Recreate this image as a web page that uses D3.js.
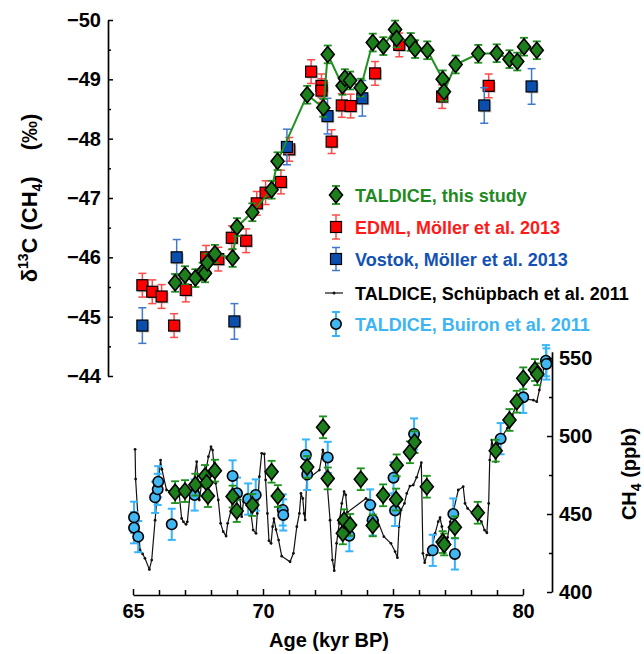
<!DOCTYPE html>
<html>
<head>
<meta charset="utf-8">
<script src="https://cdn.jsdelivr.net/npm/d3@7"></script>
<style>
html,body{margin:0;padding:0;background:#fff;}
svg{display:block;font-family:"Liberation Sans",Arial,sans-serif;font-weight:bold;}
</style>
</head>
<body>
<svg id="chart" width="644" height="654"></svg>
<script>
// ---------------- DATA ----------------
// Axis ticks
const ageTicks = [65, 70, 75, 80];
const ageMinorTicks = [66, 67, 68, 69, 71, 72, 73, 74, 76, 77, 78, 79];
const d13cTicks = [-50, -49, -48, -47, -46, -45, -44];
const d13cMinorTicks = [-49.5, -48.5, -47.5, -46.5, -45.5, -44.5];
const ch4Ticks = [400, 450, 500, 550];
const ch4MinorTicks = [425, 475, 525];

// TALDICE, this study: d13C (upper panel)
const taldAgeTop = [66.62, 67.0, 67.4, 67.68, 67.77, 67.86, 68.15, 68.83, 69.0, 69.59, 70.33, 70.56,
  71.70, 72.32, 72.49, 73.06, 73.15, 73.35, 73.76, 74.22, 74.63, 75.08, 75.14, 75.68, 75.85, 76.32,
  76.91, 76.96, 77.41, 78.28, 78.99, 79.48, 79.78, 80.04, 80.53];
const taldD13C = [-45.57, -45.70, -45.65, -45.76, -45.73, -45.91, -46.06, -45.99, -46.51, -46.76, -47.14, -47.62,
  -48.74, -48.52, -49.42, -48.89, -49.02, -48.98, -48.86, -49.62, -49.56, -49.84, -49.69, -49.63, -49.51, -49.49,
  -49.00, -48.79, -49.25, -49.43, -49.44, -49.34, -49.30, -49.55, -49.49];
const taldD13CErr = [0.15, 0.15, 0.15, 0.15, 0.15, 0.15, 0.15, 0.15, 0.15, 0.15, 0.15, 0.15,
  0.15, 0.15, 0.15, 0.15, 0.15, 0.15, 0.15, 0.15, 0.15, 0.15, 0.15, 0.15, 0.15, 0.15,
  0.15, 0.15, 0.15, 0.15, 0.15, 0.15, 0.15, 0.15, 0.15];

// EDML, Möller et al. 2013
const edmlAge = [65.36, 65.74, 66.10, 66.58, 67.03, 67.81, 68.28, 68.80, 69.35, 69.76, 70.10, 70.69, 71.01,
  71.85, 72.25, 72.25, 72.64, 73.03, 73.37, 74.31, 75.24, 76.89, 78.68];
const edmlD13C = [-45.53, -45.42, -45.34, -44.85, -45.45, -46.00, -45.97, -46.33, -46.28, -46.91, -47.09, -47.27, -47.82,
  -49.13, -48.89, -48.81, -47.95, -48.56, -48.55, -49.10, -49.58, -48.71, -48.89];
const edmlErr = [0.2, 0.2, 0.2, 0.2, 0.2, 0.2, 0.2, 0.2, 0.2, 0.2, 0.2, 0.2, 0.2,
  0.2, 0.2, 0.2, 0.2, 0.2, 0.2, 0.2, 0.2, 0.2, 0.2];

// Vostok, Möller et al. 2013
const vostokAge = [65.36, 66.68, 68.90, 70.92, 72.48, 73.82, 78.51, 80.33];
const vostokD13C = [-44.85, -46.00, -44.92, -47.86, -48.38, -48.68, -48.56, -48.88];
const vostokErr = [0.3, 0.3, 0.3, 0.3, 0.3, 0.3, 0.3, 0.3];

// TALDICE, this study: CH4 (lower panel)
const taldAgeCH4 = [66.62, 67.0, 67.4, 67.77, 67.83, 67.88, 68.15, 68.83, 68.99, 69.59, 70.33, 70.57,
  71.70, 72.31, 72.49, 73.07, 73.12, 73.35, 73.76, 74.22, 74.62, 75.12, 75.14, 75.65, 75.83, 76.30,
  76.91, 76.97, 77.38, 78.26, 78.95, 79.48, 79.76, 80.01, 80.46, 80.55];
const taldCH4 = [464.0, 464.7, 468.8, 474.4, 470.0, 461.5, 477.8, 461.2, 451.9, 455.8, 477.1, 461.5,
  480.2, 505.6, 472.8, 437.6, 446.0, 443.0, 472.3, 442.7, 462.0, 459.3, 481.2, 489.6, 496.1, 467.5,
  432.0, 430.5, 441.5, 450.8, 490.6, 510.3, 522.0, 537.0, 542.3, 539.6];
const taldCH4Err = [7, 7, 7, 7, 7, 7, 7, 7, 7, 7, 7, 7,
  7, 7, 7, 7, 7, 7, 7, 7, 7, 7, 7, 7, 7, 7,
  7, 7, 7, 7, 7, 7, 7, 7, 7, 7];

// TALDICE, Schüpbach et al. 2011 (CH4 line)
const schuAge = [65.08, 65.10, 65.27, 65.37, 65.46, 65.63, 65.72, 65.85, 65.93, 66.06, 66.11, 66.29, 66.55,
  66.78, 66.87, 66.94, 67.04, 67.09, 67.19, 67.30, 67.45, 67.49, 67.55, 67.64, 67.81, 67.90, 68.00, 68.06,
  68.18, 68.28, 68.37, 68.47, 68.58, 68.64, 68.76, 68.83, 69.12, 69.18, 69.25, 69.37, 69.50, 69.62, 69.73,
  69.78, 69.86, 69.95, 70.05, 70.10, 70.17, 70.23, 70.31, 70.37, 70.42, 70.50, 70.60, 70.72, 71.04, 71.17,
  71.30, 71.40, 71.46, 71.53, 71.58, 71.62, 71.68, 72.17, 72.30, 72.38, 72.58, 72.67, 72.74, 72.83, 72.93,
  73.03, 73.12, 73.18, 73.24, 73.96, 74.05, 74.15, 74.40, 74.65, 74.92, 75.08, 75.17, 75.23, 75.31, 75.44,
  75.53, 75.65, 75.78, 75.91, 76.09, 76.15, 76.22, 76.30, 76.42, 76.49, 76.62, 76.74, 76.81, 76.88, 76.98,
  77.10, 77.20, 77.32, 77.51, 77.70, 77.77, 77.87, 78.20, 78.40, 78.52, 78.61, 78.68, 78.72, 78.80, 78.88,
  78.95, 79.01, 79.10, 79.40, 79.59, 79.85, 80.40, 80.53, 80.63, 80.76, 80.85];
const schuCH4 = [491.5, 472.4, 427.0, 424.4, 421.6, 414.5, 420.5, 446.0, 462.0, 484.6, 478.7, 465.4, 464.0,
  462.2, 447.2, 445.0, 443.4, 445.0, 462.2, 467.5, 483.5, 471.8, 459.0, 469.7, 478.2, 486.7, 493.1, 491.0,
  469.7, 459.0, 444.0, 438.7, 435.9, 444.0, 451.5, 459.0, 459.0, 448.3, 458.0, 461.0, 455.0, 439.7, 437.6,
  450.4, 473.9, 488.9, 488.5, 471.8, 450.4, 432.9, 431.2, 441.9, 447.0, 440.0, 433.3, 423.0, 419.4, 424.8,
  441.9, 450.4, 463.2, 460.0, 450.4, 446.2, 471.8, 478.2, 491.0, 488.0, 446.0, 420.5, 413.7, 431.2, 444.0,
  456.8, 464.3, 462.2, 451.0, 460.0, 459.0, 455.0, 446.0, 435.5, 431.2, 425.9, 422.0, 441.9, 452.6, 456.8,
  463.2, 467.9, 468.6, 473.5, 482.9, 424.8, 418.8, 423.7, 423.7, 428.0, 437.6, 445.1, 447.6, 442.0, 432.0,
  435.0, 445.0, 451.5, 465.4, 467.5, 456.8, 453.6, 448.3, 445.1, 439.7, 438.0, 456.8, 484.6, 497.4, 491.0,
  483.5, 491.0, 497.4, 505.0, 513.5, 524.2, 523.0, 522.0, 529.5, 540.2, 548.7];

// TALDICE, Buiron et al. 2011
const buironAge = [65.04, 65.04, 65.20, 65.85, 65.95, 65.97, 66.49, 67.37, 68.83, 69.00, 69.43, 69.72, 70.76,
  70.78, 71.65, 71.70, 72.49, 73.32, 74.12, 74.22, 75.02, 75.08, 75.81, 76.53, 77.32, 77.38, 79.14, 80.01,
  80.88, 80.90];
const buironCH4 = [447.9, 441.2, 435.5, 460.7, 465.8, 470.7, 443.4, 462.2, 474.4, 463.3, 459.6, 462.2, 452.6,
  449.4, 487.8, 475.4, 486.3, 436.1, 455.8, 446.2, 473.3, 452.3, 501.3, 426.7, 450.0, 424.4, 498.3, 524.8,
  548.3, 546.2];
const buironErr = [10, 10, 10, 10, 10, 10, 10, 10, 10, 10, 10, 10, 10,
  10, 10, 10, 10, 10, 10, 10, 10, 10, 10, 10, 10, 10, 10, 10,
  10, 10];

const legendLabels = ["TALDICE, this study", "EDML, Möller et al. 2013", "Vostok, Möller et al. 2013",
  "TALDICE, Schüpbach et al. 2011", "TALDICE, Buiron et al. 2011"];

// ---------------- STYLE ----------------
const C = {
  green: "#1c7f1c", greenLine: "#20901f", greenText: "#1f8a24",
  red: "#ff0000", redErr: "#ff4a4a", redText: "#ff1a1a",
  blue: "#0a4fae", blueErr: "#4078cc", blueText: "#1352b5",
  lblue: "#40b6f2", lblueErr: "#38b4fa", lblueText: "#3db4f4",
  black: "#000"
};

const svg = d3.select("#chart");

const x = d3.scaleLinear().domain([65, 80]).range([133, 523]);
const yT = d3.scaleLinear().domain([-50, -44]).range([20, 376]);
const yB = d3.scaleLinear().domain([400, 554]).range([592, 351.8]);

const zip = (a, b, e) => a.map((v, i) => ({x: v, y: b[i], e: e ? e[i] : 0}));

function diamondPath(w, h) {
  return `M0,${-h/2}L${w/2},0L0,${h/2}L${-w/2},0Z`;
}

function errorBars(g, data, ys, color, capW, sw) {
  const eg = g.append("g").attr("stroke", color).attr("stroke-width", sw).attr("fill", "none");
  data.forEach(d => {
    const cx = x(d.x), y1 = ys(d.y - d.e), y2 = ys(d.y + d.e);
    eg.append("line").attr("x1", cx).attr("x2", cx).attr("y1", y1).attr("y2", y2);
    eg.append("line").attr("x1", cx - capW/2).attr("x2", cx + capW/2).attr("y1", y1).attr("y2", y1);
    eg.append("line").attr("x1", cx - capW/2).attr("x2", cx + capW/2).attr("y1", y2).attr("y2", y2);
  });
}

function squares(g, data, ys, fill, size) {
  const sg = g.append("g");
  sg.selectAll("rect.sh").data(data).join("rect").attr("class", "sh")
    .attr("x", d => x(d.x) - size/2 + 1.5).attr("y", d => ys(d.y) - size/2 + 1.5)
    .attr("width", size).attr("height", size).attr("fill", "#9a9a9a").attr("opacity", 0.55);
  sg.selectAll("rect.m").data(data).join("rect").attr("class", "m")
    .attr("x", d => x(d.x) - size/2).attr("y", d => ys(d.y) - size/2)
    .attr("width", size).attr("height", size).attr("fill", fill)
    .attr("stroke", "#000").attr("stroke-width", 1.2);
}

function diamonds(g, data, ys) {
  g.append("g").selectAll("path").data(data).join("path")
    .attr("d", diamondPath(13, 16))
    .attr("transform", d => `translate(${x(d.x)},${ys(d.y)})`)
    .attr("fill", C.green).attr("stroke", "#000").attr("stroke-width", 1.6);
}

// ---------------- UPPER PANEL ----------------
const gTop = svg.append("g");
const edml = zip(edmlAge, edmlD13C, edmlErr);
const vostok = zip(vostokAge, vostokD13C, vostokErr);
const taldTop = zip(taldAgeTop, taldD13C, taldD13CErr);

errorBars(gTop, edml, yT, C.redErr, 8, 1.5);
squares(gTop, edml, yT, C.red, 11);
errorBars(gTop, vostok, yT, C.blueErr, 8, 1.5);
squares(gTop, vostok, yT, C.blue, 11);

gTop.append("path").datum(taldTop)
  .attr("d", d3.line().x(d => x(d.x)).y(d => yT(d.y)))
  .attr("fill", "none").attr("stroke", C.greenLine).attr("stroke-width", 2);
errorBars(gTop, taldTop, yT, C.greenLine, 8, 1.8);
diamonds(gTop, taldTop, yT);

// ---------------- LOWER PANEL ----------------
const gBot = svg.append("g");
const schu = zip(schuAge, schuCH4);
gBot.append("path").datum(schu)
  .attr("d", d3.line().x(d => x(d.x)).y(d => yB(d.y)))
  .attr("fill", "none").attr("stroke", "#111").attr("stroke-width", 1.2);
gBot.append("g").selectAll("circle").data(schu).join("circle")
  .attr("cx", d => x(d.x)).attr("cy", d => yB(d.y)).attr("r", 1.4).attr("fill", "#111");

const buiron = zip(buironAge, buironCH4, buironErr);
errorBars(gBot, buiron, yB, C.lblueErr, 8, 2);
gBot.append("g").selectAll("circle").data(buiron).join("circle")
  .attr("cx", d => x(d.x)).attr("cy", d => yB(d.y)).attr("r", 5.2)
  .attr("fill", C.lblue).attr("stroke", "#000").attr("stroke-width", 1.6);

const taldBot = zip(taldAgeCH4, taldCH4, taldCH4Err);
errorBars(gBot, taldBot, yB, C.greenLine, 8, 1.8);
diamonds(gBot, taldBot, yB);

// ---------------- AXES ----------------
function styleAxis(g, fs) {
  g.attr("font-family", null).attr("font-size", null);
  g.selectAll("path.domain").attr("stroke", "#000").attr("stroke-width", 1.7);
  g.selectAll(".tick line").attr("stroke", "#000").attr("stroke-width", 1.5);
  g.selectAll(".tick text").attr("fill", "#000").attr("font-size", fs).attr("font-weight", "bold");
}
const minus = d => (d < 0 ? "\u2212" : "") + Math.abs(d);

const gl = svg.append("g").attr("transform", "translate(108,0)")
  .call(d3.axisLeft(yT).tickValues(d13cTicks).tickSizeInner(-5).tickSizeOuter(0).tickPadding(7).tickFormat(minus));
styleAxis(gl, 20);
const glm = svg.append("g").attr("transform", "translate(108,0)")
  .call(d3.axisLeft(yT).tickValues(d13cMinorTicks).tickSize(-3).tickFormat(""));
glm.select("path.domain").remove(); styleAxis(glm, 20);

const gb = svg.append("g").attr("transform", "translate(0,595)")
  .call(d3.axisBottom(x).tickValues(ageTicks).tickSizeInner(-6).tickSizeOuter(0).tickPadding(9).tickFormat(d3.format("d")));
styleAxis(gb, 20);
const gbm = svg.append("g").attr("transform", "translate(0,595)")
  .call(d3.axisBottom(x).tickValues(ageMinorTicks).tickSize(-5).tickFormat(""));
gbm.select("path.domain").remove(); styleAxis(gbm, 20);

const gr = svg.append("g").attr("transform", "translate(552,0)")
  .call(d3.axisRight(yB).tickValues(ch4Ticks).tickSizeInner(-5).tickSizeOuter(0).tickPadding(7).tickFormat(d3.format("d")));
styleAxis(gr, 20);
const grm = svg.append("g").attr("transform", "translate(552,0)")
  .call(d3.axisRight(yB).tickValues(ch4MinorTicks).tickSize(-3).tickFormat(""));
grm.select("path.domain").remove(); styleAxis(grm, 20);

// Axis titles
const yl = svg.append("text").attr("transform", "translate(37,198) rotate(-90)")
  .attr("text-anchor", "middle").attr("font-size", 22).attr("fill", "#000");
yl.append("tspan").text("\u03b4");
yl.append("tspan").attr("font-size", 14).attr("dy", -9).text("13");
yl.append("tspan").attr("dy", 9).text("C");
yl.append("tspan").attr("dx", 7).text("(CH");
yl.append("tspan").attr("font-size", 14).attr("dy", 5).text("4");
yl.append("tspan").attr("dy", -5).text(")");
yl.append("tspan").attr("dx", 26).text("(\u2030)");

const yr = svg.append("text").attr("transform", "translate(636,474) rotate(-90)")
  .attr("text-anchor", "middle").attr("font-size", 20).attr("fill", "#000");
yr.append("tspan").text("CH");
yr.append("tspan").attr("font-size", 14).attr("dy", 5).text("4");
yr.append("tspan").attr("dy", -5).text(" (ppb)");

svg.append("text").attr("x", 329).attr("y", 647).attr("text-anchor", "middle")
  .attr("font-size", 20).attr("fill", "#000").text("Age (kyr BP)");

// ---------------- LEGEND ----------------
const lg = svg.append("g");
const lx = 336, tx = 355;
const rows = [195, 227, 259, 293, 324];
const lcolors = [C.greenText, C.redText, C.blueText, "#000", C.lblueText];
function legErr(cy, half, color, sw) {
  lg.append("line").attr("x1", lx).attr("x2", lx).attr("y1", cy - half).attr("y2", cy + half).attr("stroke", color).attr("stroke-width", sw);
  [cy - half, cy + half].forEach(yy => lg.append("line").attr("x1", lx - 4).attr("x2", lx + 4).attr("y1", yy).attr("y2", yy).attr("stroke", color).attr("stroke-width", sw));
}
legErr(rows[0], 9, C.greenLine, 1.8);
lg.append("path").attr("d", diamondPath(13, 16)).attr("transform", `translate(${lx},${rows[0]})`)
  .attr("fill", C.green).attr("stroke", "#000").attr("stroke-width", 1.6);
legErr(rows[1], 12, C.redErr, 1.5);
lg.append("rect").attr("x", lx - 5.5).attr("y", rows[1] - 5.5).attr("width", 11).attr("height", 11)
  .attr("fill", C.red).attr("stroke", "#000").attr("stroke-width", 1.2);
legErr(rows[2], 11.5, C.blueErr, 1.5);
lg.append("rect").attr("x", lx - 5.5).attr("y", rows[2] - 5.5).attr("width", 11).attr("height", 11)
  .attr("fill", C.blue).attr("stroke", "#000").attr("stroke-width", 1.2);
lg.append("line").attr("x1", lx - 11).attr("x2", lx + 7).attr("y1", rows[3]).attr("y2", rows[3]).attr("stroke", "#111").attr("stroke-width", 1.2);
lg.append("circle").attr("cx", lx - 2).attr("cy", rows[3]).attr("r", 1.5).attr("fill", "#111");
legErr(rows[4], 12, C.lblueErr, 2);
lg.append("circle").attr("cx", lx).attr("cy", rows[4]).attr("r", 5.2)
  .attr("fill", C.lblue).attr("stroke", "#000").attr("stroke-width", 1.6);

legendLabels.forEach((t, i) => {
  lg.append("text").attr("x", tx).attr("y", rows[i] + 6.5).attr("font-size", 18)
    .attr("fill", lcolors[i]).text(t);
});
</script>
</body>
</html>
